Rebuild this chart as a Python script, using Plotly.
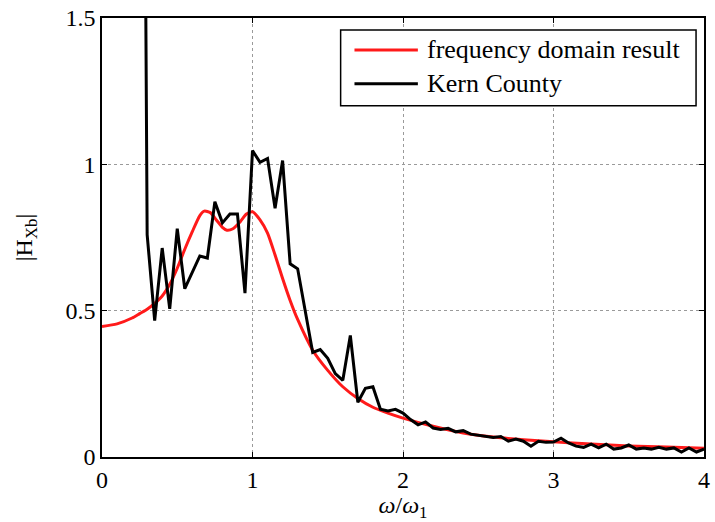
import plotly.graph_objects as go

# Frequency-domain prediction of |H_Xb| versus normalised frequency
freq_ratio = [0.0, 0.1, 0.2, 0.25, 0.3, 0.35, 0.4, 0.45, 0.5, 0.55, 0.6, 0.65,
              0.68, 0.72, 0.76, 0.8, 0.83, 0.87, 0.92, 0.96, 1.0, 1.05, 1.1,
              1.15, 1.2, 1.25, 1.3, 1.4, 1.5, 1.6, 1.7, 1.8, 1.9, 2.0, 2.2,
              2.4, 2.6, 2.8, 3.0, 3.25, 3.5, 3.75, 4.0]
freq_domain = [0.446, 0.455, 0.475, 0.49, 0.505, 0.525, 0.55, 0.59, 0.645,
               0.71, 0.77, 0.825, 0.84, 0.835, 0.81, 0.785, 0.775, 0.78,
               0.805, 0.83, 0.838, 0.81, 0.765, 0.69, 0.61, 0.535, 0.47,
               0.365, 0.296, 0.24, 0.2, 0.17, 0.15, 0.133, 0.105, 0.082,
               0.068, 0.059, 0.052, 0.044, 0.038, 0.034, 0.03]

# Kern County record, sampled every 0.05 from 0.25 to 4.0
kern_ratio = [round(0.25 + 0.05 * i, 2) for i in range(76)]
kern_county = [5.0, 0.76, 0.466, 0.714, 0.506, 0.78, 0.575, 0.63, 0.687, 0.68,
               0.872, 0.8, 0.83, 0.83, 0.56, 1.047, 1.007, 1.02, 0.85, 1.013,
               0.66, 0.643, 0.5, 0.357, 0.367, 0.337, 0.285, 0.262, 0.415,
               0.187, 0.235, 0.24, 0.163, 0.157, 0.163, 0.15, 0.128, 0.11,
               0.12, 0.099, 0.094, 0.098, 0.086, 0.09, 0.078, 0.075, 0.071,
               0.067, 0.07, 0.054, 0.061, 0.054, 0.037, 0.054, 0.05, 0.051,
               0.064, 0.048, 0.037, 0.033, 0.044, 0.031, 0.044, 0.027, 0.031,
               0.041, 0.027, 0.031, 0.027, 0.033, 0.027, 0.031, 0.017, 0.031,
               0.017, 0.027]

x_ticks = [0, 1, 2, 3, 4]
y_ticks = [0, 0.5, 1, 1.5]
y_tick_labels = ["0", "0.5", "1", "1.5"]

series_names = ["frequency domain result", "Kern County"]
series_colors = ["#ff1a1a", "#000000"]

FONT = "Liberation Serif, Times New Roman, serif"

fig = go.Figure()
fig.add_trace(go.Scatter(x=freq_ratio, y=freq_domain, mode="lines",
                         line=dict(color=series_colors[0], width=3, shape="spline", smoothing=0.6),
                         name=series_names[0], showlegend=False))
fig.add_trace(go.Scatter(x=kern_ratio, y=kern_county, mode="lines",
                         line=dict(color=series_colors[1], width=3),
                         name=series_names[1], showlegend=False))

axis_common = dict(
    showline=True, linecolor="black", linewidth=1.5, mirror="ticks",
    ticks="inside", ticklen=5, tickcolor="black", tickwidth=1,
    showgrid=True, gridcolor="#9a9a9a", griddash="dot", gridwidth=1,
    zeroline=False, tickfont=dict(family=FONT, size=24, color="black"),
)

fig.update_xaxes(range=[0, 4], tickvals=x_ticks, ticktext=[str(t) for t in x_ticks],
                 title=dict(text="<i>ω</i>/<i>ω</i><sub>1</sub>",
                            font=dict(family=FONT, size=24, color="black"), standoff=2),
                 **axis_common)
fig.update_yaxes(range=[0, 1.5], tickvals=y_ticks, ticktext=y_tick_labels,
                 title=dict(text="|H<sub>Xb</sub>|",
                            font=dict(family=FONT, size=24, color="black"), standoff=26),
                 **axis_common)

# Legend box drawn in paper coordinates
L, R, T, B = 0.3964, 0.9868, 0.9727, 0.80
fig.add_shape(type="rect", xref="paper", yref="paper", x0=L, x1=R, y0=B, y1=T,
              line=dict(color="black", width=1.5), fillcolor="white", layer="above")
legend_rows = [0.9273, 0.85]
for name, color, yrow in zip(series_names, series_colors, legend_rows):
    fig.add_shape(type="line", xref="paper", yref="paper", x0=0.4194, x1=0.5247,
                  y0=yrow, y1=yrow, line=dict(color=color, width=3), layer="above")
    fig.add_annotation(xref="paper", yref="paper", x=0.5362, y=yrow, text=name,
                       showarrow=False, xanchor="left", yanchor="middle",
                       font=dict(family=FONT, size=26, color="black"))

fig.update_layout(
    width=715, height=522,
    margin=dict(l=102, r=5, t=17, b=65),
    paper_bgcolor="white", plot_bgcolor="white",
    font=dict(family=FONT, size=24, color="black"),
)

fig.write_html("out.html")
